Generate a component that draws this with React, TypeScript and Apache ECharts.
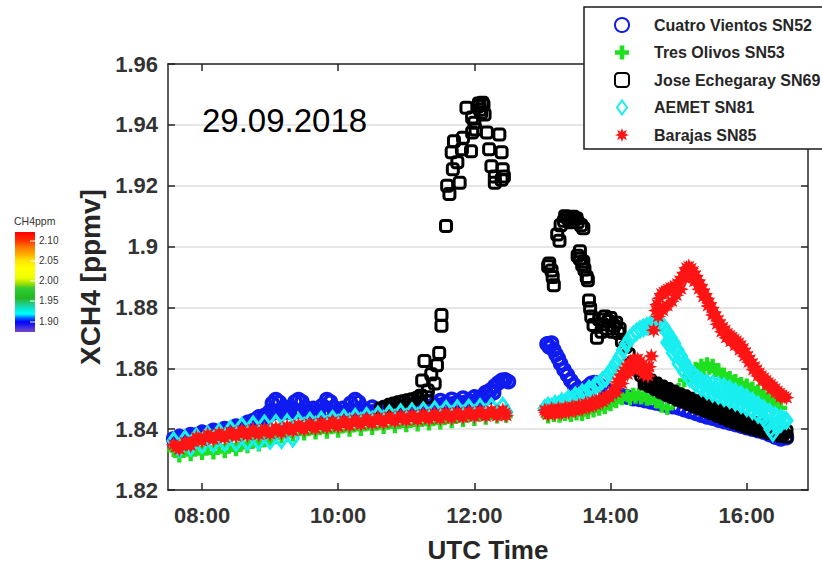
import React, { useEffect, useRef } from "react";
import * as echarts from "echarts";

type Pt = [string, number];

const seriesNames = [
  "Cuatro Vientos SN52",
  "Tres Olivos SN53",
  "Jose Echegaray SN69",
  "AEMET SN81",
  "Barajas SN85",
];
const xTickHours = [8, 10, 12, 14, 16];
const colorbarLabels = ["2.10", "2.05", "2.00", "1.95", "1.90"];
const dateLabel = "29.09.2018";

const cuatroVientos: Pt[] = [
  ["07:35",1.8368],["07:40",1.8376],["07:45",1.8372],["07:50",1.8382],["07:55",1.8380],["08:00",1.8390],["08:05",1.8386],["08:10",1.8396],["08:15",1.8392],["08:20",1.8402],["08:25",1.8398],["08:30",1.8410],["08:35",1.8408],["08:40",1.8422],["08:45",1.8428],["08:50",1.8440],["08:55",1.8445],["09:00",1.8460],["09:02",1.8485],["09:05",1.8497],["09:08",1.8488],["09:10",1.8465],["09:13",1.8472],["09:15",1.8458],["09:18",1.8470],["09:22",1.8490],["09:25",1.8497],["09:28",1.8490],["09:31",1.8470],["09:35",1.8458],["09:38",1.8468],["09:42",1.8460],["09:46",1.8478],["09:50",1.8497],["09:53",1.8490],["09:56",1.8472],["10:00",1.8458],["10:04",1.8468],["10:08",1.8460],["10:11",1.8485],["10:15",1.8497],["10:18",1.8488],["10:21",1.8470],["10:25",1.8460],["10:30",1.8472],["10:35",1.8462],["10:40",1.8470],["10:45",1.8465],["10:50",1.8475],["10:55",1.8468],["11:00",1.8480],["11:05",1.8472],["11:10",1.8484],["11:15",1.8476],["11:20",1.8490],["11:25",1.8480],["11:30",1.8494],["11:35",1.8484],["11:40",1.8498],["11:45",1.8488],["11:50",1.8502],["11:55",1.8492],["12:00",1.8506],["12:05",1.8505],["12:10",1.8520],["12:14",1.8528],["12:18",1.8542],["12:21",1.8552],["12:24",1.8560],["12:27",1.8562],["12:30",1.8556],
  ["07:37",1.8362],["07:42",1.8368],["07:47",1.8370],["07:52",1.8374],["07:57",1.8378],["08:02",1.8382],["08:07",1.8384],["08:12",1.8388],["08:17",1.8390],["08:22",1.8394],["08:27",1.8396],["08:32",1.8402],["08:37",1.8405],["08:42",1.8412],["08:47",1.8420],["08:52",1.8430],["08:57",1.8438],["09:02",1.8452],["09:07",1.8458],["09:12",1.8455],["09:17",1.8456],["09:22",1.8458],["09:27",1.8460],["09:32",1.8457],["09:37",1.8455],["09:42",1.8456],["09:47",1.8458],["09:52",1.8460],["09:57",1.8456],["10:02",1.8455],["10:07",1.8456],["10:12",1.8458],["10:17",1.8460],["10:22",1.8457],["10:27",1.8456],["10:32",1.8458],["10:37",1.8460],["10:42",1.8460],["10:47",1.8462],["10:52",1.8464],["10:57",1.8466],["11:02",1.8468],["11:07",1.8470],["11:12",1.8472],["11:17",1.8474],["11:22",1.8476],["11:27",1.8478],["11:32",1.8480],["11:37",1.8482],["11:42",1.8484],["11:47",1.8486],["11:52",1.8488],["11:57",1.8490],["12:02",1.8492],["12:07",1.8496],["12:12",1.8505],["12:17",1.8520],
  ["13:04",1.8680],["13:06",1.8670],["13:08",1.8683],["13:10",1.8660],["13:12",1.8645],["13:14",1.8632],["13:16",1.8615],["13:19",1.8595],["13:22",1.8578],["13:25",1.8560],["13:28",1.8545],["13:31",1.8532],["13:34",1.8522],["13:35",1.8512],["13:37",1.8528],["13:40",1.8540],["13:41",1.8515],["13:43",1.8550],["13:46",1.8553],["13:48",1.8520],["13:50",1.8545],["13:55",1.8532],["14:00",1.8522],["14:05",1.8515],["14:10",1.8510],["14:15",1.8505],["14:20",1.8500],["14:25",1.8498],["14:30",1.8494],["14:35",1.8490],["14:40",1.8486],["14:45",1.8482],["14:50",1.8478],["14:55",1.8474],["15:00",1.8470],["15:05",1.8464],["15:10",1.8458],["15:15",1.8452],["15:20",1.8446],["15:25",1.8440],["15:30",1.8436],["15:35",1.8430],["15:40",1.8425],["15:45",1.8420],["15:50",1.8415],["15:55",1.8410],["16:00",1.8405],["16:05",1.8400],["16:10",1.8395],["16:15",1.8390],["16:20",1.8382],["16:25",1.8374],["16:30",1.8368],["16:35",1.8372],
];

const tresOlivos: Pt[] = [
  ["07:35",1.8330],["07:40",1.8312],["07:45",1.8335],["07:50",1.8316],["07:55",1.8338],["08:00",1.8320],["08:05",1.8340],["08:10",1.8322],["08:15",1.8345],["08:20",1.8326],["08:25",1.8348],["08:30",1.8332],["08:35",1.8352],["08:40",1.8342],["08:45",1.8358],["08:50",1.8348],["08:55",1.8362],["09:00",1.8360],["09:05",1.8372],["09:10",1.8374],["09:15",1.8378],["09:20",1.8380],["09:30",1.8384],["09:40",1.8387],["09:50",1.8390],["10:00",1.8393],["10:10",1.8396],["10:20",1.8399],["10:30",1.8402],["10:40",1.8405],["10:50",1.8408],["11:00",1.8411],["11:10",1.8414],["11:20",1.8417],["11:30",1.8420],["11:40",1.8424],["11:50",1.8428],["12:00",1.8432],["12:10",1.8436],["12:20",1.8440],["12:28",1.8442],
  ["13:05",1.8440],["13:10",1.8445],["13:15",1.8442],["13:20",1.8448],["13:25",1.8445],["13:30",1.8450],["13:35",1.8448],["13:40",1.8455],["13:45",1.8460],["13:50",1.8465],["13:55",1.8470],["14:00",1.8480],["14:05",1.8490],["14:10",1.8500],["14:15",1.8510],["14:20",1.8515],["14:25",1.8515],["14:30",1.8510],["14:35",1.8500],["14:40",1.8490],["14:45",1.8475],["14:50",1.8468],["14:55",1.8490],["15:00",1.8530],["15:05",1.8560],["15:10",1.8585],["15:15",1.8600],["15:20",1.8610],["15:25",1.8615],["15:30",1.8610],["15:35",1.8595],["15:40",1.8580],["15:45",1.8570],["15:50",1.8560],["15:55",1.8550],["16:00",1.8545],["16:05",1.8535],["16:10",1.8525],["16:15",1.8515],["16:20",1.8500],["16:25",1.8485],["16:30",1.8470],
  ["14:17",1.8500],["14:22",1.8505],["14:27",1.8502],["14:32",1.8498],["15:12",1.8570],["15:17",1.8588],["15:22",1.8598],["15:27",1.8600],["15:32",1.8592],["15:37",1.8580],["15:42",1.8566],["15:47",1.8556],["15:52",1.8546],["15:57",1.8538],["16:02",1.8530],["16:07",1.8520],["16:12",1.8510],["16:17",1.8498],["16:22",1.8485],
];

const joseEchegaray: Pt[] = [
  ["10:38",1.8468],["10:42",1.8474],["10:46",1.8480],["10:50",1.8484],["10:54",1.8488],["10:58",1.8492],["11:02",1.8495],["11:06",1.8498],["11:10",1.8502],["11:13",1.8510],["11:14",1.8560],["11:16",1.8624],["11:18",1.8505],["11:19",1.8527],["11:22",1.8580],["11:25",1.8550],["11:27",1.8610],["11:29",1.8650],["11:31",1.8740],["11:31",1.8775],["11:35",1.9068],["11:36",1.9200],["11:38",1.9173],["11:40",1.9310],["11:41",1.9254],["11:42",1.9346],["11:45",1.9277],["11:47",1.9210],["11:49",1.9320],["11:50",1.9358],["11:53",1.9456],["11:57",1.9313],["11:58",1.9375],["11:58",1.9424],["12:00",1.9407],["12:01",1.9385],["12:03",1.9460],["12:04",1.9470],["12:05",1.9450],["12:06",1.9440],["12:07",1.9473],["12:08",1.9465],["12:09",1.9434],["12:11",1.9375],["12:13",1.9320],["12:15",1.9264],["12:18",1.9230],["12:18",1.9210],["12:22",1.9368],["12:24",1.9310],["12:24",1.9220],["12:25",1.9254],["12:26",1.9230],
  ["13:05",1.8935],["13:06",1.8944],["13:08",1.8921],["13:09",1.8900],["13:10",1.8873],["13:13",1.9040],["13:15",1.9019],["13:16",1.9070],["13:19",1.9085],["13:22",1.9095],["13:25",1.9090],["13:28",1.9088],["13:31",1.9080],["13:34",1.9070],["13:36",1.9060],["13:31",1.8970],["13:33",1.8960],["13:35",1.8940],["13:37",1.8925],["13:39",1.8900],["13:40",1.8889],["13:41",1.8823],["13:42",1.8797],["13:43",1.8770],["13:45",1.8742],["13:48",1.8700],["13:50",1.8760],["13:52",1.8720],["13:55",1.8770],["13:57",1.8730],["14:00",1.8765],["14:02",1.8720],["14:05",1.8750],["14:07",1.8716],["14:10",1.8690],["14:13",1.8670],["14:16",1.8645],["14:20",1.8620],["14:24",1.8595],["14:27",1.8578],
  ["14:30",1.8568],["14:30",1.8550],["14:35",1.8560],["14:35",1.8542],["14:40",1.8550],["14:40",1.8532],["14:45",1.8540],["14:45",1.8522],["14:50",1.8532],["14:50",1.8514],["14:55",1.8524],["14:55",1.8506],["15:00",1.8515],["15:00",1.8497],["15:05",1.8508],["15:05",1.8490],["15:10",1.8500],["15:10",1.8482],["15:15",1.8492],["15:15",1.8474],["15:20",1.8485],["15:20",1.8467],["15:25",1.8478],["15:25",1.8460],["15:30",1.8470],["15:30",1.8452],["15:35",1.8462],["15:35",1.8444],["15:40",1.8455],["15:40",1.8437],["15:45",1.8447],["15:45",1.8429],["15:50",1.8440],["15:50",1.8422],["15:55",1.8433],["15:55",1.8415],["16:00",1.8426],["16:00",1.8408],["16:05",1.8421],["16:05",1.8403],["16:10",1.8416],["16:10",1.8398],["16:15",1.8411],["16:15",1.8393],["16:20",1.8406],["16:20",1.8388],["16:25",1.8401],["16:25",1.8383],["16:30",1.8396],["16:30",1.8378],["16:35",1.8392],["16:35",1.8376],
  ["14:32",1.8555],["14:37",1.8546],["14:42",1.8536],["14:47",1.8527],["14:52",1.8519],["14:57",1.8510],["15:02",1.8502],["15:07",1.8495],["15:12",1.8487],["15:17",1.8479],["15:22",1.8472],["15:27",1.8465],["15:32",1.8457],["15:37",1.8450],["15:42",1.8442],["15:47",1.8435],["15:52",1.8428],["15:57",1.8421],["16:02",1.8415],["16:07",1.8410],["16:12",1.8405],["16:17",1.8400],["16:22",1.8395],["16:27",1.8390],["16:32",1.8385],
  ["13:20",1.9100],["13:24",1.9080],["13:27",1.9098],["13:30",1.9092],["13:33",1.8985],["13:36",1.8950],["13:53",1.8745],["13:58",1.8755],["14:03",1.8740],["14:08",1.8730],
];

const aemet: Pt[] = [
  ["07:35",1.8362],["07:40",1.8335],["07:45",1.8368],["07:50",1.8340],["07:55",1.8375],["08:00",1.8348],["08:05",1.8382],["08:10",1.8352],["08:15",1.8390],["08:20",1.8355],["08:25",1.8400],["08:30",1.8356],["08:35",1.8410],["08:40",1.8358],["08:45",1.8415],["08:50",1.8360],["08:55",1.8418],["09:00",1.8362],["09:05",1.8420],["09:10",1.8365],["09:15",1.8422],["09:20",1.8370],["09:25",1.8424],["09:30",1.8410],["09:35",1.8427],["09:40",1.8413],["09:45",1.8430],["09:50",1.8417],["09:55",1.8433],["10:00",1.8420],["10:05",1.8436],["10:10",1.8423],["10:15",1.8440],["10:20",1.8426],["10:25",1.8443],["10:30",1.8430],["10:35",1.8447],["10:40",1.8433],["10:45",1.8451],["10:50",1.8436],["10:55",1.8455],["11:00",1.8439],["11:05",1.8458],["11:10",1.8441],["11:15",1.8461],["11:20",1.8443],["11:25",1.8464],["11:30",1.8445],["11:35",1.8466],["11:40",1.8447],["11:45",1.8468],["11:50",1.8449],["11:55",1.8470],["12:00",1.8451],["12:05",1.8472],["12:10",1.8453],["12:15",1.8474],["12:20",1.8454],["12:25",1.8476],["12:28",1.8456],
  ["13:02",1.8468],["13:05",1.8476],["13:08",1.8472],["13:11",1.8482],["13:14",1.8480],["13:17",1.8490],["13:20",1.8488],["13:23",1.8500],["13:26",1.8498],["13:29",1.8510],["13:32",1.8508],["13:35",1.8520],["13:38",1.8518],["13:41",1.8532],["13:44",1.8530],["13:47",1.8545],["13:50",1.8548],["13:53",1.8560],["13:56",1.8568],["13:59",1.8585],["14:02",1.8600],["14:05",1.8618],["14:08",1.8638],["14:11",1.8660],["14:14",1.8680],["14:17",1.8698],["14:20",1.8710],["14:23",1.8720],["14:26",1.8728],["14:29",1.8733],["14:32",1.8738],["14:35",1.8742],["14:38",1.8745],["14:41",1.8748],["14:44",1.8745],["14:47",1.8735],["14:50",1.8718],["14:53",1.8700],["14:56",1.8682],["14:59",1.8660],["15:02",1.8640],["15:05",1.8620],["15:08",1.8600],["15:11",1.8585],["15:14",1.8575],["15:17",1.8566],["15:20",1.8558],["15:25",1.8552],["15:30",1.8548],["15:35",1.8544],["15:40",1.8540],["15:45",1.8532],["15:50",1.8523],["15:55",1.8514],["16:00",1.8504],["16:05",1.8492],["16:10",1.8480],["16:15",1.8468],["16:20",1.8456],["16:25",1.8445],["16:30",1.8436],["16:35",1.8428],
  ["14:50",1.8685],["14:55",1.8650],["15:00",1.8615],["15:05",1.8588],["15:10",1.8565],["15:15",1.8548],["15:20",1.8536],["15:25",1.8525],["15:30",1.8517],["15:35",1.8510],["15:40",1.8503],["15:45",1.8496],["15:50",1.8488],["15:55",1.8480],["16:00",1.8470],["16:05",1.8460],["16:10",1.8448],["16:15",1.8436],["16:18",1.8420],["16:21",1.8400],["16:23",1.8388],["16:26",1.8410],["16:30",1.8418],
  ["14:52",1.8690],["14:57",1.8660],["15:02",1.8628],["15:07",1.8600],["15:12",1.8578],["15:17",1.8560],["15:22",1.8548],["15:27",1.8538],["15:32",1.8532],["15:37",1.8527],["15:42",1.8522],["15:47",1.8515],["15:52",1.8506],["15:57",1.8497],["16:02",1.8487],["16:07",1.8476],["16:12",1.8464],["16:17",1.8452],["16:27",1.8438],["16:33",1.8430],
];

const barajas: Pt[] = [
  ["07:35",1.8349],["07:40",1.8334],["07:45",1.8357],["07:50",1.8346],["07:55",1.8373],["08:00",1.8361],["08:05",1.8382],["08:10",1.8366],["08:15",1.8386],["08:20",1.8371],["08:25",1.8391],["08:30",1.8376],["08:35",1.8396],["08:40",1.8380],["08:45",1.8399],["08:50",1.8382],["08:55",1.8401],["09:00",1.8384],["09:05",1.8404],["09:10",1.8388],["09:15",1.8409],["09:20",1.8394],["09:25",1.8414],["09:30",1.8398],["09:35",1.8418],["09:40",1.8401],["09:45",1.8421],["09:50",1.8405],["09:55",1.8425],["10:00",1.8408],["10:05",1.8428],["10:10",1.8411],["10:15",1.8431],["10:20",1.8415],["10:25",1.8434],["10:30",1.8418],["10:35",1.8438],["10:40",1.8421],["10:45",1.8441],["10:50",1.8425],["10:55",1.8444],["11:00",1.8428],["11:05",1.8447],["11:10",1.8430],["11:15",1.8449],["11:20",1.8432],["11:25",1.8451],["11:30",1.8434],["11:35",1.8453],["11:40",1.8436],["11:45",1.8455],["11:50",1.8438],["11:55",1.8457],["12:00",1.8441],["12:05",1.8460],["12:10",1.8442],["12:15",1.8461],["12:20",1.8443],["12:25",1.8462],["12:28",1.8444],
  ["07:37",1.8341],["07:42",1.8345],["07:47",1.8351],["07:52",1.8359],["07:57",1.8367],["08:02",1.8371],["08:07",1.8374],["08:12",1.8376],["08:17",1.8378],["08:22",1.8381],["08:27",1.8383],["08:32",1.8386],["08:37",1.8388],["08:42",1.8389],["08:47",1.8390],["08:52",1.8391],["08:57",1.8392],["09:02",1.8394],["09:07",1.8396],["09:12",1.8398],["09:17",1.8401],["09:22",1.8404],["09:27",1.8406],["09:32",1.8408],["09:37",1.8409],["09:42",1.8411],["09:47",1.8413],["09:52",1.8415],["09:57",1.8416],["10:02",1.8418],["10:07",1.8419],["10:12",1.8421],["10:17",1.8423],["10:22",1.8424],["10:27",1.8426],["10:32",1.8428],["10:37",1.8429],["10:42",1.8431],["10:47",1.8433],["10:52",1.8434],["10:57",1.8436],["11:02",1.8437],["11:07",1.8438],["11:12",1.8439],["11:17",1.8440],["11:22",1.8441],["11:27",1.8442],["11:32",1.8443],["11:37",1.8444],["11:42",1.8445],["11:47",1.8446],["11:52",1.8447],["11:57",1.8449],["12:02",1.8450],["12:07",1.8451],["12:12",1.8451],["12:17",1.8452],["12:22",1.8452],["12:27",1.8453],
  ["13:02",1.8462],["13:05",1.8448],["13:08",1.8466],["13:11",1.8450],["13:14",1.8468],["13:17",1.8452],["13:20",1.8470],["13:23",1.8456],["13:26",1.8474],["13:29",1.8460],["13:32",1.8478],["13:35",1.8465],["13:38",1.8484],["13:41",1.8472],["13:44",1.8490],["13:47",1.8480],["13:50",1.8498],["13:53",1.8490],["13:56",1.8508],["13:59",1.8505],["14:02",1.8525],["14:04",1.8535],["14:06",1.8555],["14:08",1.8565],["14:10",1.8580],["14:12",1.8590],["14:14",1.8602],["14:16",1.8612],["14:18",1.8618],["14:20",1.8625],["14:22",1.8628],["14:24",1.8630],["14:26",1.8622],["14:28",1.8612],["14:30",1.8600],["14:32",1.8595],["14:34",1.8605],["14:36",1.8640],["14:38",1.8725],["14:40",1.8790],["14:41",1.8810],["14:43",1.8830],["14:45",1.8845],["14:47",1.8850],["14:49",1.8855],["14:51",1.8860],["14:53",1.8865],["14:55",1.8862],["14:57",1.8870],["14:59",1.8878],["15:01",1.8888],["15:03",1.8900],["15:05",1.8915],["15:07",1.8930],["15:09",1.8935],["15:11",1.8928],["15:13",1.8918],["15:15",1.8905],["15:17",1.8890],["15:19",1.8875],["15:21",1.8860],["15:23",1.8845],["15:25",1.8830],["15:27",1.8815],["15:29",1.8800],["15:31",1.8785],["15:33",1.8770],["15:35",1.8758],["15:37",1.8745],["15:39",1.8735],["15:41",1.8725],["15:43",1.8715],["15:45",1.8708],["15:47",1.8702],["15:49",1.8696],["15:51",1.8690],["15:53",1.8683],["15:55",1.8675],["15:57",1.8665],["15:59",1.8652],["16:01",1.8640],["16:03",1.8628],["16:05",1.8616],["16:07",1.8605],["16:09",1.8595],["16:11",1.8585],["16:13",1.8576],["16:15",1.8568],["16:17",1.8560],["16:19",1.8553],["16:21",1.8547],["16:23",1.8540],["16:25",1.8533],["16:27",1.8525],["16:29",1.8518],["16:31",1.8512],["16:33",1.8507],["16:35",1.8503],
  ["13:03",1.8455],["13:06",1.8457],["13:09",1.8458],["13:12",1.8459],["13:15",1.8460],["13:18",1.8461],["13:21",1.8463],["13:24",1.8465],["13:27",1.8467],["13:30",1.8469],["13:33",1.8471],["13:36",1.8474],["13:39",1.8478],["13:42",1.8481],["13:45",1.8485],["13:48",1.8489],["13:51",1.8494],["13:54",1.8499],["13:57",1.8506],
  ["14:05",1.8520],["14:10",1.8550],["14:15",1.8580],["14:20",1.8595],["14:25",1.8600],["14:29",1.8580],["14:33",1.8575],["14:42",1.8770],["14:46",1.8790],["14:50",1.8805],["14:54",1.8820],["14:58",1.8840],["15:02",1.8860],["15:06",1.8895],["15:10",1.8910],["15:14",1.8885],["15:18",1.8860],["15:22",1.8835],["15:26",1.8805],["15:30",1.8775],["15:34",1.8745],["15:38",1.8720],["15:42",1.8700],["15:46",1.8688],["15:50",1.8675],["15:54",1.8660],["15:58",1.8640],["16:02",1.8620],["16:06",1.8595],["16:10",1.8575],["16:14",1.8560],["16:18",1.8545],["16:22",1.8532],["16:26",1.8520],["16:30",1.8505],
];

const toHour = (t: string) => {
  const [h, m] = t.split(":").map(Number);
  return h + m / 60;
};
const toData = (pts: Pt[]) => pts.map(([t, v]) => [toHour(t), v]);

const FONT = "'Liberation Sans', Arial, Helvetica, sans-serif";

const plusSymbol = "path://M4 0H8V4H12V8H8V12H4V8H0V4H4Z";
const diamondSymbol = "path://M5 0L10 7L5 14L0 7Z";
const asteriskSymbol = (() => {
  const p: string[] = [];
  for (let i = 0; i < 16; i++) {
    const a = (Math.PI * i) / 8 - Math.PI / 2;
    const r = i % 2 === 0 ? 10 : 5;
    p.push(`${(10 + r * Math.cos(a)).toFixed(2)} ${(10 + r * Math.sin(a)).toFixed(2)}`);
  }
  return "path://M" + p.join("L") + "Z";
})();

export default function App() {
  const ref = useRef<HTMLDivElement>(null);

  useEffect(() => {
    if (!ref.current) return;
    const chart = echarts.init(ref.current, undefined, { renderer: "svg" });

    const axisLineStyle = { color: "#262626", width: 1.5 };
    const yFmt = (v: number) => {
      const s = v.toFixed(2);
      return s.endsWith("0") ? s.slice(0, -1) : s;
    };
    const xFmt = (v: number) => `${String(Math.round(v)).padStart(2, "0")}:00`;

    const colorbarTop = 232;
    const colorbarH = 100;
    const labelYs = [241, 261, 281, 301, 322];

    chart.setOption({
      animation: false,
      backgroundColor: "#ffffff",
      textStyle: { fontFamily: FONT },
      grid: { left: 168, right: 14, top: 64, bottom: 75, containLabel: false },
      legend: {
        orient: "vertical",
        left: 584,
        top: 7,
        backgroundColor: "#ffffff",
        borderColor: "#1a1a1a",
        borderWidth: 1.5,
        borderRadius: 0,
        padding: [9, 12, 5, 30],
        itemWidth: 14,
        itemHeight: 14,
        itemGap: 9.5,
        selectedMode: false,
        textStyle: {
          fontFamily: FONT,
          fontSize: 16,
          fontWeight: "bold",
          color: "#262626",
          lineHeight: 18,
          padding: [0, 0, 0, 20],
        },
        data: seriesNames,
      },
      xAxis: [
        {
          type: "value",
          min: 7.5,
          max: 16.9,
          position: "bottom",
          axisLine: { show: true, onZero: false, lineStyle: axisLineStyle },
          axisTick: { show: true, inside: true, length: 7, customValues: xTickHours, lineStyle: axisLineStyle },
          axisLabel: {
            customValues: xTickHours,
            formatter: xFmt,
            margin: 14,
            fontSize: 22,
            fontWeight: "bold",
            color: "#333333",
            fontFamily: FONT,
          },
          splitLine: { show: false },
          name: "UTC Time",
          nameLocation: "middle",
          nameGap: 47,
          nameTextStyle: { fontSize: 26, fontWeight: "bold", color: "#262626", fontFamily: FONT },
        },
        {
          type: "value",
          min: 7.5,
          max: 16.9,
          position: "top",
          axisLine: { show: true, onZero: false, lineStyle: axisLineStyle },
          axisTick: { show: true, inside: true, length: 7, customValues: xTickHours, lineStyle: axisLineStyle },
          axisLabel: { show: false },
          splitLine: { show: false },
        },
      ],
      yAxis: [
        {
          type: "value",
          min: 1.82,
          max: 1.96,
          interval: 0.02,
          position: "left",
          axisLine: { show: true, onZero: false, lineStyle: axisLineStyle },
          axisTick: { show: true, inside: true, length: 7, lineStyle: axisLineStyle },
          axisLabel: {
            formatter: yFmt,
            margin: 10,
            fontSize: 22,
            fontWeight: "bold",
            color: "#333333",
            fontFamily: FONT,
            showMinLabel: true,
            showMaxLabel: true,
          },
          splitLine: { show: true, lineStyle: { color: "#dedede", width: 1.5 } },
          name: "XCH4 [ppmv]",
          nameLocation: "middle",
          nameGap: 60,
          nameRotate: 90,
          nameTextStyle: { fontSize: 28, fontWeight: "bold", color: "#262626", fontFamily: FONT },
        },
        {
          type: "value",
          min: 1.82,
          max: 1.96,
          interval: 0.02,
          position: "right",
          axisLine: { show: true, onZero: false, lineStyle: axisLineStyle },
          axisTick: { show: true, inside: true, length: 7, lineStyle: axisLineStyle },
          axisLabel: { show: false },
          splitLine: { show: false },
        },
      ],
      series: [
        {
          name: seriesNames[0],
          type: "scatter",
          data: toData(cuatroVientos),
          symbol: "circle",
          symbolSize: 12,
          itemStyle: { color: "rgba(0,0,0,0)", borderColor: "#0f1bef", borderWidth: 3.6, opacity: 1 },
        },
        {
          name: seriesNames[1],
          type: "scatter",
          data: toData(tresOlivos),
          symbol: plusSymbol,
          symbolSize: 13,
          itemStyle: { color: "#1fe01f", opacity: 1 },
        },
        {
          name: seriesNames[2],
          type: "scatter",
          data: toData(joseEchegaray),
          symbol: "roundRect",
          symbolSize: 11,
          itemStyle: { color: "rgba(0,0,0,0)", borderColor: "#000000", borderWidth: 3, opacity: 1 },
        },
        {
          name: seriesNames[3],
          type: "scatter",
          data: toData(aemet),
          symbol: diamondSymbol,
          symbolSize: [11, 15],
          itemStyle: { color: "rgba(0,0,0,0)", borderColor: "#19eef0", borderWidth: 3.2, opacity: 1 },
        },
        {
          name: seriesNames[4],
          type: "scatter",
          data: toData(barajas),
          symbol: asteriskSymbol,
          symbolSize: 16,
          itemStyle: { color: "#ff1414", opacity: 1 },
        },
      ],
      graphic: [
        {
          type: "text",
          left: 202,
          top: 104,
          style: { text: dateLabel, font: `normal 33px ${FONT}`, fill: "#000000" },
          z: 10,
        },
        {
          type: "text",
          left: 14,
          top: 215,
          style: { text: "CH4ppm", font: `normal 10.5px ${FONT}`, fill: "#333333" },
        },
        {
          type: "rect",
          shape: { x: 15, y: colorbarTop, width: 20, height: colorbarH },
          style: {
            fill: new echarts.graphic.LinearGradient(0, 0, 0, 1, [
              { offset: 0, color: "#ff0000" },
              { offset: 0.08, color: "#ff2a00" },
              { offset: 0.15, color: "#ff7700" },
              { offset: 0.22, color: "#ffaa00" },
              { offset: 0.28, color: "#ffe000" },
              { offset: 0.36, color: "#ffff00" },
              { offset: 0.46, color: "#eeff00" },
              { offset: 0.52, color: "#99dd00" },
              { offset: 0.56, color: "#33cc33" },
              { offset: 0.66, color: "#22b822" },
              { offset: 0.72, color: "#22cc88" },
              { offset: 0.78, color: "#00eedd" },
              { offset: 0.82, color: "#00ffff" },
              { offset: 0.86, color: "#0066ff" },
              { offset: 0.9, color: "#0000ff" },
              { offset: 0.96, color: "#4433dd" },
              { offset: 1, color: "#7744cc" },
            ]),
          },
        },
        ...labelYs.map((y) => ({
          type: "line",
          shape: { x1: 30, y1: y, x2: 35, y2: y },
          style: { stroke: "#ffffff", lineWidth: 1 },
        })),
        ...colorbarLabels.map((t, i) => ({
          type: "text",
          left: 39,
          top: labelYs[i] - 6,
          style: { text: t, font: `normal 10px ${FONT}`, fill: "#333333" },
        })),
      ],
    });

    return () => chart.dispose();
  }, []);

  return (
    <div
      ref={ref}
      style={{ position: "fixed", left: 0, top: 0, width: 822, height: 568, background: "#fff" }}
    />
  );
}
